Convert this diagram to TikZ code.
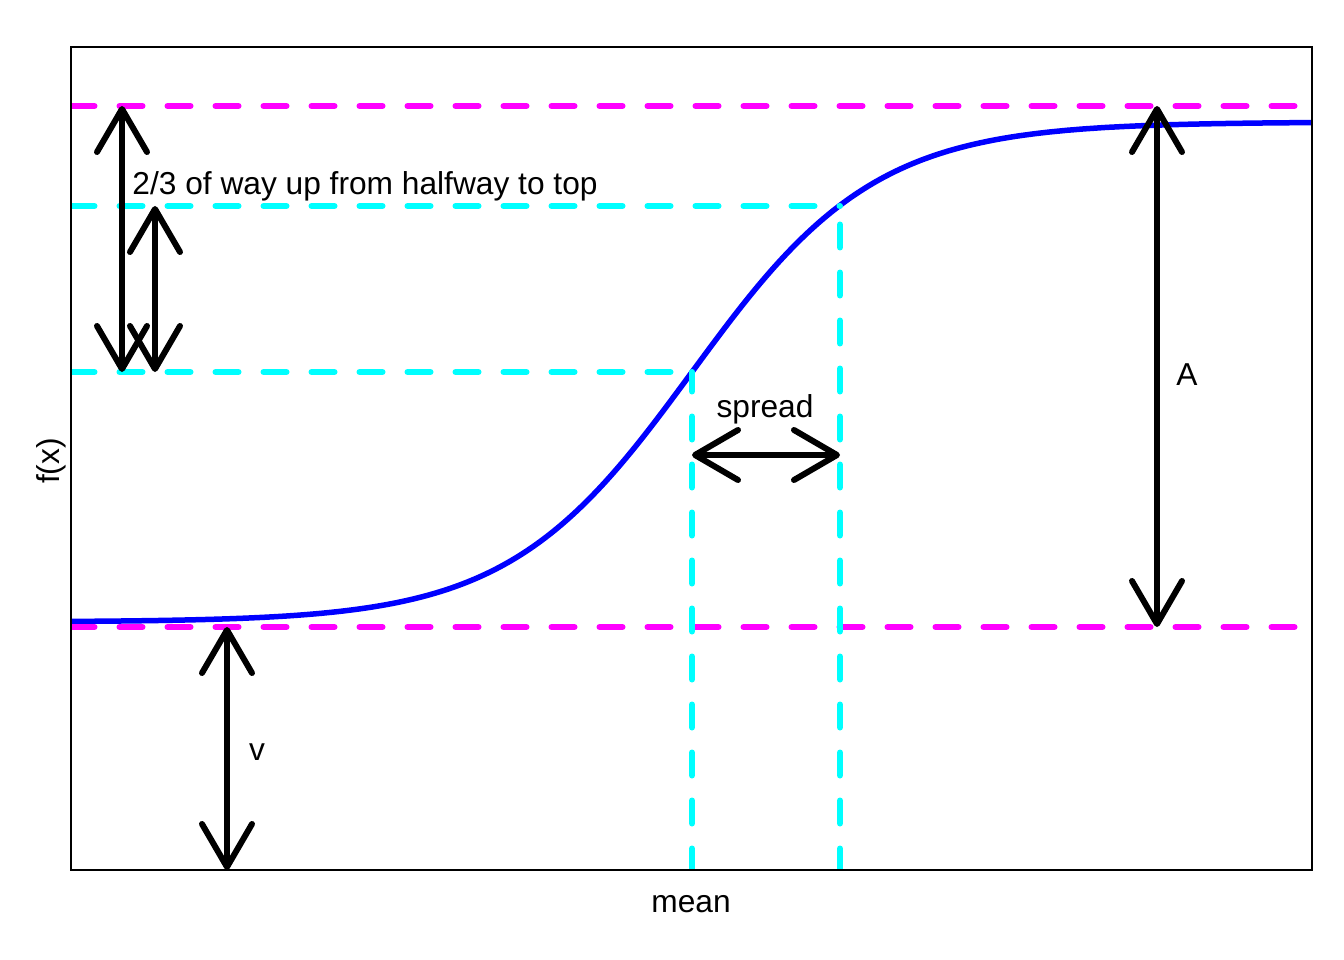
\documentclass[tikz,border=0pt]{standalone}
\usepackage{fontspec}
\setmainfont{Liberation Sans}
\usetikzlibrary{arrows.meta}
\definecolor{cyanR}{RGB}{0,255,255}
\definecolor{magR}{RGB}{255,0,255}
\definecolor{blueR}{RGB}{0,0,255}
\begin{document}
\begin{tikzpicture}[x=1pt,y=-1pt,
  lab/.style={font=\fontsize{31.7}{38}\selectfont, inner sep=0pt},
  dashln/.style={line width=6pt, line cap=round, dash pattern=on 23pt off 25pt},
  magln/.style={dashln, magR},
  cyanln/.style={dashln, cyanR},
  curveln/.style={line width=5.5pt, blueR},
  arr/.style={line width=6pt, line cap=round,
    {Straight Barb[length=43pt,width=50pt,round]}-{Straight Barb[length=43pt,width=50pt,round]}},
  frameln/.style={line width=2pt}]
\useasboundingbox (0,0) rectangle (1344,960);
% coordinates
\coordinate (fl) at (71,47);
\coordinate (fr) at (1312,870);
\coordinate (top1) at (122,106);
\coordinate (bot1) at (122,372);
\coordinate (top2) at (155,206);
\coordinate (bot2) at (155,372);
\coordinate (vtop) at (227,627);
\coordinate (vbot) at (227,870);
\coordinate (Atop) at (1157,106);
\coordinate (Abot) at (1157,627);
\coordinate (spl) at (692,455);
\coordinate (spr) at (840,455);
\coordinate (pmid) at (692,372);
\coordinate (pspr) at (840,206);
\coordinate (bmid) at (692,871.5);
\coordinate (bspr) at (840,871.5);
\coordinate (lmid) at (71.5,372);
\coordinate (lspr) at (71.5,206);
\coordinate (mtl) at (71.5,106);
\coordinate (mtr) at (1312,106);
\coordinate (mbl) at (71.5,627);
\coordinate (mbr) at (1312,627);
\begin{scope}
\clip (fl) rectangle (fr);
\draw[curveln] plot[domain=71:1312, samples=250, smooth] (\x, {622-500/(1+exp(-(\x-692)/91.96))});
\draw[magln] (mtl) -- (mtr);
\draw[magln] (mbl) -- (mbr);
\draw[cyanln] (lspr) -- (pspr);
\draw[cyanln] (lmid) -- (pmid);
\draw[cyanln] (bmid) -- (pmid);
\draw[cyanln] (bspr) -- (pspr);
\end{scope}
\draw[frameln] (fl) rectangle (fr);
\draw[arr] (top1) -- (bot1);
\draw[arr] (top2) -- (bot2);
\draw[arr] (vtop) -- (vbot);
\draw[arr] (Atop) -- (Abot);
\draw[arr] (spl) -- (spr);
\node[lab, anchor=base] (t23) at (365,195) {2/3 of way up from halfway to top};
\node[lab, anchor=base] (tsp) at (765,417) {spread};
\node[lab, anchor=base] (tA) at (1187,385) {A};
\node[lab, anchor=base] (tv) at (257,760) {v};
\node[lab, anchor=base] (tmean) at (691,912) {mean};
\node[lab, rotate=90, anchor=base] (tfx) at (59,461) {f(x)};
\end{tikzpicture}
\end{document}
